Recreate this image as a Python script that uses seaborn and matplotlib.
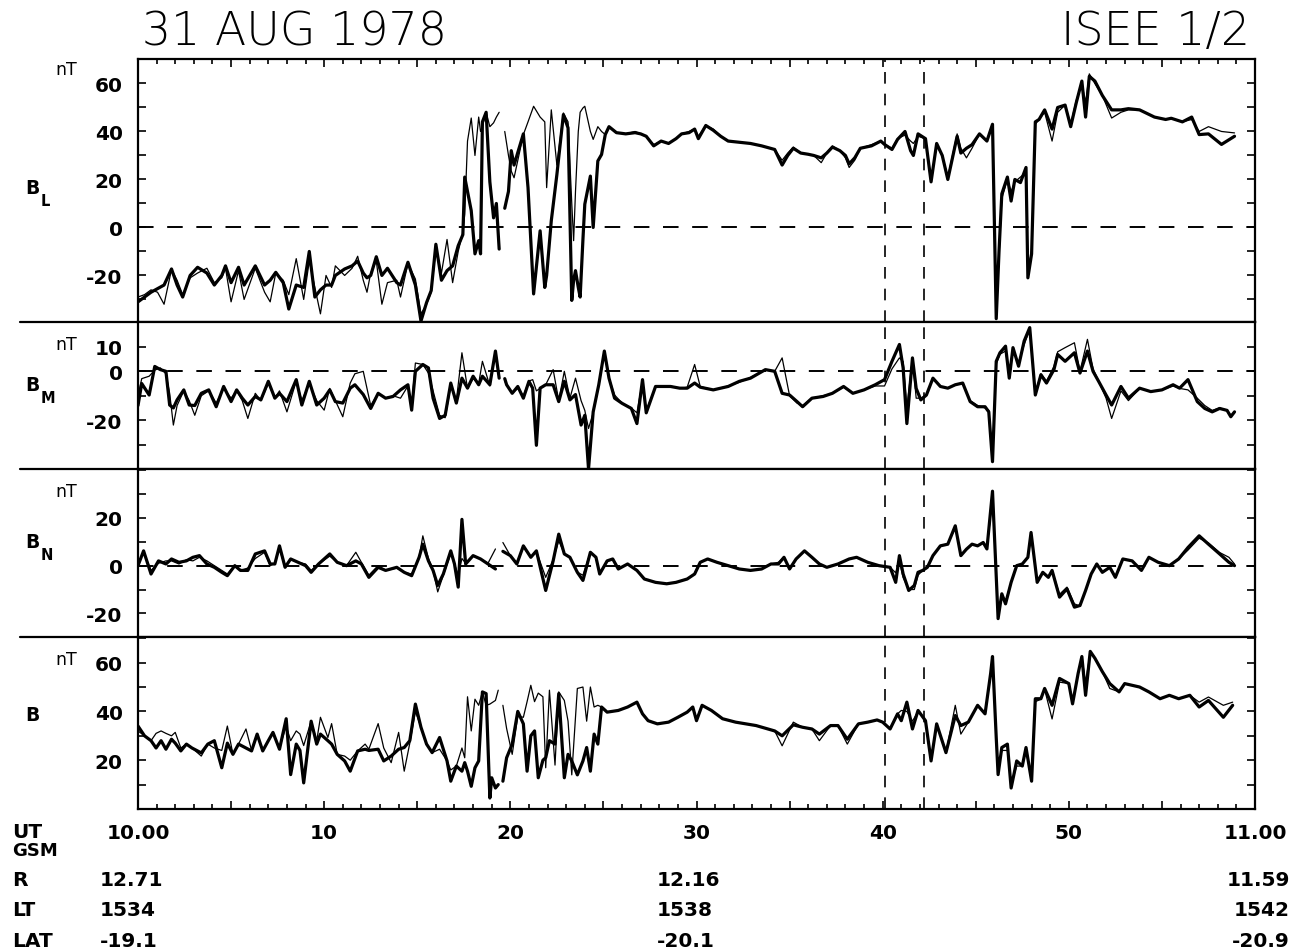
import numpy as np
import pandas as pd
import matplotlib
matplotlib.use("Agg")
import matplotlib.pyplot as plt
from matplotlib.lines import Line2D
from matplotlib.ticker import MultipleLocator, FuncFormatter
import seaborn as sns

nan = float("nan")

# ---------------- field components, minutes after 10:00 UT ----------------
# B_L
bl_t = [0.0, 0.35, 0.7, 1.05, 1.4, 1.8, 2.1, 2.4, 2.8, 3.2, 3.7, 4.1, 4.5, 4.7, 5.0, 5.4, 5.7, 6.3,
        6.8, 7.1, 7.4, 7.8, 8.1, 8.5, 8.9, 9.2, 9.5, 9.8, 10.1, 10.4, 10.6, 11.1, 11.5, 11.8, 12.1,
        12.3, 12.5, 12.8, 13.1, 13.4, 13.9, 14.1, 14.5, 14.9, 15.2, 15.5, 15.75, 16.0, 16.3, 16.6,
        16.9, 17.2, 17.45, 17.55, 17.7, 17.9, 18.1, 18.3, 18.4, 18.5, 18.7, 18.9, 19.1, 19.25, 19.4,
        19.55, 19.7, 19.9, 20.05, 20.2, 20.7, 20.95, 21.25, 21.6, 21.85, 21.95, 22.2, 22.5, 22.85,
        23.1, 23.3, 23.4, 23.5, 23.65, 23.75, 23.9, 24.0, 24.3, 24.45, 24.7, 24.9, 25.1, 25.3, 25.7,
        26.2, 26.7, 27.0, 27.3, 27.7, 28.1, 28.5, 28.9, 29.2, 29.6, 29.9, 30.1, 30.5, 30.9, 31.3,
        31.7, 32.3, 32.9, 33.5, 34.2, 34.6, 34.9, 35.2, 35.6, 36.0, 36.3, 36.7, 37.0, 37.3, 37.7,
        38.0, 38.2, 38.5, 38.8, 39.4, 39.9, 40.1, 40.5, 40.8, 41.2, 41.5, 41.65, 41.9, 42.3, 42.6,
        42.9, 43.2, 43.5, 44.0, 44.2, 44.5, 44.8, 45.2, 45.6, 45.9, 46.1, 46.25, 46.4, 46.7, 46.9,
        47.1, 47.4, 47.7, 47.8, 48.0, 48.2, 48.4, 48.7, 49.1, 49.4, 49.8, 50.1, 50.4, 50.7, 50.9,
        51.1, 51.4, 51.8, 52.3, 52.8, 53.2, 53.8, 54.6, 55.2, 55.5, 56.1, 56.6, 57.0, 57.5, 58.2, 58.9]
bl_isee1 = [-31, -29, -27, -25.5, -24, -17.3, -24, -29, -20, -16.6, -19, -24, -20, -16, -23, -16.6, -24, -16,
            -24, -22, -18.7, -23, -34, -24, -25, -10, -29, -26, -24, -24, -20, -17.3, -16, -14, -19,
            -21, -20, -12.2, -20, -17, -23, -24, -14.5, -24, -39, -31.3, -26.3, -7, -22, -18,
            -16, -7.6, -3, 21, 15, 7, -11, -5.5, -11, 44, 48, 19, 4, 10, -9,
            nan, 8, 15, 32, 26, 39, 16.6, -27.7, -1.4, -25, -20, 2.8, 22, 47,
            41.5, -30.4, -22, -18, -25, -29, -5, 9.7, 21.4, 0, 27.7, 30.4, 38.7, 42, 39.5,
            39, 39.5, 39, 38, 34, 36, 35, 37, 39, 39.5, 41, 37, 42.5, 40.5, 38,
            36, 35.5, 35, 34, 32.5, 26, 30, 33, 31, 30.5, 30, 29, 31, 33.5, 32,
            30, 26.5, 29, 33, 34, 36, 34.6, 32.5, 36.7, 40, 32, 30, 39, 37, 19,
            35, 30, 20, 38, 31, 33, 34.5, 39, 36, 43, -38, -10, 14, 21, 11,
            20, 18.7, 25, -21, -11, 44, 45, 49, 41, 50, 51, 42, 52, 61, 46,
            63, 61, 55, 49, 49, 49.5, 49, 46, 45, 45.5, 44, 46, 38.7, 39, 34.6, 38]
bl_isee2 = [-29, -28, -26, -27, -32, -17.5, -22, -28, -21, -19, -17, -23, -21, -17, -31, -18, -30, -17,
            -27, -31, -19, -22, -28, -13, -30, -14, -25, -36, -20, -25, -16, -20, -17, -12, -22,
            -27, -19, -14, -32, -23, -22, -29, -15, -21.5, -36, -32, -27, -9, -19, -5,
            -23, -10, -2, 5.5, 36, 45.6, 30, 46, 40, 42, 48, 42, 43.6, 46, 48,
            nan, 40, 30, 23.5, 20.7, 38.7, 44, 50.5, 46, 44, 16.6, 49, 26, 47.7,
            44, 10, -5.5, 15, 40, 48, 49.8, 50.5, 40, 36.7, 42, 40, 38.7, 42, 39.5,
            39, 40, 39, 38, 34.5, 36, 35, 37, 39, 40, 41, 38, 42.5, 41, 38,
            36, 35.5, 35, 34, 32.5, 28, 31, 33.5, 31, 30.5, 30, 27, 31, 34, 32,
            29, 25, 28, 33, 34.5, 36, 34.6, 33, 37, 38.5, 36, 35, 38, 37, 20,
            34, 30, 21, 39, 33, 29, 33, 39, 36, 43, -36, -12, 12, 20, 15,
            19, 21, 23, -18, -10, 43, 45, 48, 36, 48, 51, 43, 53, 60, 52,
            64, 60, 55, 45.6, 48, 49, 49, 46, 45, 45.5, 44, 45, 40, 42, 40, 39.4]

# B_M
bm_t = [0.0, 0.2, 0.6, 0.9, 1.2, 1.5, 1.7, 1.9, 2.1, 2.46, 2.75, 3.05, 3.4, 3.8, 4.2, 4.6, 5.0, 5.3,
        5.6, 5.9, 6.3, 6.6, 7.0, 7.35, 7.6, 8.0, 8.5, 8.8, 9.2, 9.6, 10.0, 10.3, 10.6, 11.0, 11.4,
        11.65, 12.1, 12.5, 12.9, 13.3, 13.7, 14.1, 14.5, 14.7, 14.9, 15.3, 15.6, 15.85, 16.2, 16.5,
        16.8, 17.1, 17.4, 17.7, 18.0, 18.3, 18.5, 18.9, 19.2, 19.4, 19.55, 19.7, 19.8, 20.1, 20.4,
        20.7, 21.0, 21.2, 21.4, 21.6, 21.9, 22.3, 22.6, 22.9, 23.2, 23.5, 23.8, 24.0, 24.2, 24.45,
        24.75, 25.05, 25.3, 25.6, 26.0, 26.5, 26.8, 27.1, 27.3, 27.8, 28.6, 29.1, 29.5, 29.9, 30.2,
        30.9, 31.7, 32.3, 32.9, 33.7, 34.2, 34.6, 35.0, 35.4, 35.7, 36.2, 36.8, 37.3, 37.9, 38.4,
        39.0, 39.6, 40.1, 40.5, 40.9, 41.1, 41.3, 41.6, 41.8, 42.05, 42.35, 42.7, 43.1, 43.5, 43.9,
        44.3, 44.7, 45.1, 45.5, 45.7, 45.9, 46.1, 46.3, 46.6, 46.8, 47.0, 47.3, 47.6, 47.9, 48.2,
        48.5, 48.8, 49.2, 49.4, 49.8, 50.3, 50.6, 51.0, 51.3, 51.6, 52.0, 52.3, 52.8, 53.2, 53.8,
        54.4, 55.0, 55.6, 55.95, 56.4, 56.9, 57.3, 57.7, 58.1, 58.5, 58.7, 58.9]
bm_isee1 = [-14, -5, -9.7, 2, 0.7, 0, -13.8, -15, -11.7, -7.6, -13.8, -14, -9, -7.6, -14.5, -6.2, -12.4, -7.6,
            -11, -13.8, -10.3, -11.7, -4.1, -11, -9, -12.4, -3.4, -13.8, -4.1, -13.8, -11, -7.6, -12.4, -13, -6.9,
            -5.5, -9.5, -15.2, -9, -11, -10.3, -7.6, -5.5, -15.9, 0, 2.8, 1.4, -11, -19.3, -18,
            -4.8, -13, -2.8, -6.9, -2, -5.5, -2, -5.5, 8.3, -2.8, nan, -3, -5.5, -9, -6.2,
            -11, -4.1, -6.9, -30.3, -6.9, -5.5, -5.5, -12.4, -4.1, -11.7, -9.5, -22, -18, -40, -16.6,
            -5.5, 8.3, -2.8, -11, -13.1, -15.2, -21.4, -3.4, -17, -6.2, -6.2, -6.9, -6.9, -4.8, -6.5,
            -7.6, -6.2, -4.1, -2.8, 0.7, 0, -9, -9.7, -12.4, -14.5, -11, -10.3, -9, -6.2, -9,
            -7.6, -5.5, -3.4, 4.1, 11, 1.4, -21.4, 5.5, -7, -11.7, -9.7, -2.8, -6.2, -6.9, -5.5,
            -4.8, -12.4, -14.5, -14.5, -16.6, -37, 4.1, 7.6, 10.3, -2.8, 9.7, 2.1, 12.4, 17.9, -9.7,
            -1.4, -4.8, 0.7, 6.9, 4.1, 7.6, -0.7, 8.3, 0, -4.1, -9.7, -13.8, -6.2, -11, -6.9,
            -8.3, -7.6, -5.5, -6.9, -3.4, -12.4, -15.2, -16.6, -15.2, -16, -18.6, -16.6]
bm_isee2 = [-10, -3, -2, 0.5, 1.4, -1, -9, -22, -14, -8, -12, -18, -10, -8, -13, -7, -11, -8,
            -12, -19.3, -9, -12, -5, -11, -8, -16.6, -4, -12, -5, -12, -15.9, -7, -12, -18.6, -4.8,
            -1, 0, -14, -9, -11, -10, -11, -6, -14, 3.4, 2.8, -0.7, -8, -18, -19,
            -6, -12, 7.6, -7, -3, -5, 4.1, -6, 8, -2, nan, -4, -5.5, -9, -7,
            -10, -4, -3.4, -8, -7, -5.5, 0.7, -12, 0, -11, -2.8, -12, -16, -23.4, -17,
            -6, 7.6, -2.8, -9.7, -13, -15, -17, -4, -16, -6.5, -6, -7, -6.5, 2.8, -6.2,
            -7.6, -6, -4.5, -2.5, 0.5, 0, 5.5, -10, -13, -14, -11, -10, -9, -6.5, -9,
            -7.6, -6, -6, 1, 5.5, 4, -15, 5.5, -11, -11, -9.7, -2.8, -6.2, -6.9, -5.5,
            -5, -12, -14, -15, -16, -35, 3, 7, 8.3, -1, 9, 3, 11, 17, -9,
            -1, -4, 2, 8, 9.7, 11.7, 0, 13.1, 1, -4, -11, -19.3, -8, -12, -7,
            -8.3, -7.6, -6, -7, -7.6, -11, -14, -16, -15, -16, -18, -16.6]

# B_N
bn_t = [0.0, 0.3, 0.7, 1.1, 1.5, 1.8, 2.2, 2.6, 2.95, 3.3, 3.7, 4.1, 4.5, 4.8, 5.2, 5.5, 5.9, 6.3,
        6.8, 7.1, 7.35, 7.6, 7.9, 8.2, 8.6, 9.0, 9.3, 9.7, 10.3, 10.7, 11.2, 11.7, 12.0, 12.4, 12.9,
        13.3, 13.9, 14.3, 14.7, 15.1, 15.3, 15.6, 15.85, 16.1, 16.4, 16.8, 17.0, 17.2, 17.4, 17.6,
        18.0, 18.4, 18.8, 19.2, 19.45, 19.6, 20.0, 20.35, 20.7, 21.1, 21.4, 21.9, 22.3, 22.6, 22.9,
        23.2, 23.6, 23.9, 24.3, 24.6, 24.8, 25.2, 25.5, 25.8, 26.3, 26.8, 27.2, 27.8, 28.4, 28.9,
        29.5, 29.9, 30.2, 30.6, 31.1, 31.7, 32.3, 32.9, 33.5, 34.0, 34.4, 34.7, 35.0, 35.35, 35.8,
        36.2, 36.6, 37.0, 37.6, 38.2, 38.6, 39.2, 39.8, 40.4, 40.7, 40.9, 41.1, 41.4, 41.7, 41.9,
        42.15, 42.4, 42.7, 43.1, 43.5, 43.9, 44.2, 44.5, 44.8, 45.1, 45.4, 45.6, 45.9, 46.2, 46.4,
        46.6, 46.9, 47.2, 47.5, 47.8, 47.97, 48.3, 48.6, 48.9, 49.1, 49.5, 49.9, 50.3, 50.6, 50.9,
        51.2, 51.5, 51.8, 52.2, 52.5, 52.9, 53.4, 53.9, 54.3, 54.8, 55.4, 55.9, 56.4, 57.0, 57.5,
        58.1, 58.6, 58.9]
bn_isee1 = [0, 6.2, -3.5, 2, 0.7, 2.8, 1.4, 2, 3.5, 4.2, 0.7, -0.7, -2.8, -4.2, 0, -2, -2, 4.9,
            6.2, 0.7, 0.7, 8.3, -0.7, 2.8, 1.4, 0, -2.8, 0.7, 4.9, 1.4, 0, 2, 0.7, -4.9, -0.7,
            -2, -0.7, -2.8, -4.2, 3.5, 9, 2, -2, -8.3, -3.5, 6.2, 0.7, -9, 19.4, 0.7,
            4.2, 2.8, 0.7, -1.4, nan, 6, 4.2, 0.7, 8.3, 3.5, 6.2, -10.4, 2, 13.2, 4.9,
            3.5, -2.8, -6.2, 5.6, 3.5, -3.5, 2, 2.8, -1.4, 0.7, -2, -5.6, -7, -7.6, -7,
            -5.6, -3.5, 1.4, 2.8, 1.4, 0, -1.4, -2, -1.4, 0.7, 0.7, 3.5, -1.4, 2.8, 6.2,
            3.5, 0.7, -0.7, 0.7, 2.8, 3.5, 1.4, 0, -0.7, -7, 4.2, -3.5, -10.4, -8.3, -2.8,
            -2, -0.7, 4.2, 8.3, 9, 16.7, 4.2, 6.9, 9, 8.3, 9.7, 7, 31.2, -22.2, -11.8,
            -16, -7, 0, 0.7, 3.5, 13.9, -7, -2.8, -4.9, -2, -13.2, -9.7, -17.4, -16.7, -10.4,
            -3.5, 0.7, -2.8, -0.7, -4.9, 2.8, 2, -2, 3.5, 1.4, 0, 2.8, 7.6, 12.5, 9,
            4.9, 1.4, 0]
bn_isee2 = [1, 5.6, -2, 1, 2, 2, 0.7, 2.5, 2, 3.5, 2, 0, -2, -3.5, 0, -2, -1, 3,
            5.6, 0, 1, 7, -0.7, 2.8, 1.4, 0.7, -2, 0.7, 4, 1.4, 0, 5.6, 1.4, -4, 0,
            -2, -1, -2.8, -3.5, 3.5, 12.5, 3, -2, -11, -4, 5, 0.7, -4, 3, 1,
            4.2, 2.8, 1, 7, nan, 9.7, 4.2, 1, 8, 3.5, 6, -4.9, 2.5, 10.4, 5,
            3.5, -2.8, -4, 5.6, 3.5, -3.5, 2, 2.8, -1.4, 0.7, -2, -5.6, -7, -7.6, -7,
            -5.6, -3.5, 1.4, 2.8, 1.4, 0, -1.4, -2, -1.4, 0.7, 1.4, 3.5, -1.4, 2.8, 6.2,
            3.5, 0.7, -0.7, 0.7, 2.8, 3.5, 1.4, 0, -0.7, -3, 2, -5, -10, -10, -4,
            -2, -0.7, 4.2, 8.3, 9, 16, 4.2, 6.9, 9, 8.3, 9.7, 7, 28, -20, -12,
            -15, -7, 0, 0.7, 3.5, 12, -6, -2.8, -4.9, -2, -12, -9, -16, -17, -10.4,
            -3.5, 0.7, -2.8, -0.7, -4.9, 2.8, 2, -2, 3.5, 1.4, 0, 2.8, 6.5, 11.5, 9.5,
            5.5, 3.5, 0.7]

# |B|
bt_t = [0.0, 0.35, 0.7, 0.97, 1.24, 1.5, 1.8, 2.0, 2.3, 2.6, 2.9, 3.4, 3.75, 4.1, 4.5, 4.8, 5.1, 5.4,
        5.8, 6.1, 6.4, 6.7, 7.0, 7.25, 7.6, 7.96, 8.2, 8.5, 8.7, 8.9, 9.3, 9.6, 9.8, 10.2, 10.4,
        10.7, 11.1, 11.4, 11.8, 12.2, 12.4, 12.9, 13.2, 13.6, 14.0, 14.3, 14.6, 14.9, 15.2, 15.5,
        15.8, 16.2, 16.6, 16.8, 17.1, 17.4, 17.55, 17.7, 17.9, 18.1, 18.3, 18.5, 18.7, 18.9, 19.0,
        19.2, 19.35, 19.45, 19.6, 19.8, 20.1, 20.4, 20.7, 20.9, 21.1, 21.3, 21.5, 21.75, 21.9, 22.1,
        22.4, 22.6, 22.9, 23.1, 23.3, 23.6, 23.9, 24.1, 24.3, 24.5, 24.7, 24.9, 25.2, 25.8, 26.3,
        26.8, 27.1, 27.4, 27.9, 28.5, 29.0, 29.5, 29.8, 30.0, 30.3, 30.8, 31.4, 32.1, 33.2, 34.2,
        34.6, 35.2, 35.7, 36.2, 36.6, 37.2, 37.6, 38.1, 38.7, 39.2, 39.7, 40.0, 40.4, 40.8, 41.0,
        41.3, 41.6, 41.9, 42.3, 42.6, 42.9, 43.4, 43.9, 44.2, 44.6, 45.1, 45.5, 45.8, 45.9, 46.1,
        46.2, 46.4, 46.7, 46.9, 47.2, 47.5, 47.7, 48.0, 48.2, 48.5, 48.7, 49.1, 49.5, 50.0, 50.2,
        50.5, 50.7, 50.9, 51.15, 51.4, 51.8, 52.2, 52.7, 53.0, 53.8, 54.3, 54.9, 55.4, 55.9, 56.5,
        57.0, 57.5, 58.3, 58.8]
bt_isee1 = [34, 30, 28, 25, 28, 24.5, 28.6, 27, 23.8, 26.6, 25, 23, 26.6, 28, 16.9, 27, 22.4, 26.6,
            25, 23.8, 30.7, 23.8, 28, 31.4, 24.5, 37, 14.1, 26.6, 24, 10.7, 36, 26.6, 30.7, 28, 26.6,
            22.4, 19.7, 15.5, 23.8, 24.5, 24, 24.5, 19.7, 21.7, 24.5, 25.2, 28, 43, 33.5, 26.6,
            23.1, 29.3, 19.7, 11.4, 17.6, 15.5, 19, 15.5, 9.3, 16.9, 19.7, 48, 47.3, 4.5, 12.8,
            8.6, 10, nan, 11.4, 21, 26.6, 40, 34.9, 15.5, 30, 32, 12.8, 20, 21, 28,
            26.6, 47.3, 12.8, 22.4, 19.7, 14, 19.7, 25.2, 15.5, 30.7, 26.6, 41.8, 39.7, 40.4, 41.8,
            43.8, 39, 36.2, 34.9, 35.6, 37.6, 39.7, 41.8, 36.2, 42.5, 40.4, 37, 35.6, 34.2, 32,
            30, 34.5, 33.5, 32.8, 30.7, 34.2, 34.2, 28.6, 34.9, 35.6, 36.5, 35.6, 32.8, 39, 36.2,
            43.8, 32.8, 40.4, 36.2, 19.7, 34.9, 23.1, 38.3, 34.2, 35.6, 42.5, 39, 55.6, 62.5, 29.3,
            14.1, 25.2, 26.6, 8.6, 19.7, 17.6, 25.2, 11.4, 45.2, 45.2, 49.4, 42.5, 53.5, 51.4, 43.1,
            55.6, 62.5, 46.6, 64.6, 61.8, 56.3, 51.4, 48, 51.4, 50, 48, 45.2, 46.6, 45.2, 46.6,
            41.8, 44.5, 37.6, 42.5]
bt_isee2 = [32, 30, 28, 31, 32, 31, 30, 31.4, 25, 26.6, 25, 21.7, 26.6, 25, 24, 34, 22.4, 26.6,
            32.8, 24, 30, 24, 28, 31, 25, 34, 28, 32, 30.7, 26, 36, 28, 37.6, 29.3, 35,
            22.4, 21.7, 20, 23.8, 26.6, 24.5, 35, 25, 19, 31.4, 15.5, 27, 40, 33.5, 26.6,
            23.1, 24.5, 19.7, 16, 17.6, 25, 21, 46, 32, 45, 42.5, 48, 42.5, 43, 43.5,
            44.5, 48.7, nan, 42.5, 33, 22.4, 38, 37.6, 44, 50.7, 44, 47.5, 46, 16.9, 48.7,
            18, 48, 44.5, 36, 14, 49.4, 50, 36, 50, 41.8, 42.5, 41.8, 39.7, 40.4, 41.8,
            43.8, 39, 36.2, 35, 35.6, 37.6, 39.7, 41.8, 37, 42.5, 40.4, 37, 35.6, 34.2, 32,
            25.9, 35.6, 33.5, 32.8, 28, 34.2, 34.2, 26.6, 34.9, 35.6, 36.5, 35.6, 32.8, 39, 40.4,
            40, 36, 40, 36.2, 20, 34.9, 23.1, 42.5, 30.7, 35.6, 42.5, 39, 55.6, 60, 30,
            16, 24, 24, 10, 17.6, 17.6, 24, 12, 44, 45, 49, 36.9, 52, 51.4, 44,
            55.6, 62, 52, 64, 61.8, 56.3, 49.4, 48, 51.4, 50, 48, 45.2, 46.6, 45.2, 46.6,
            43.8, 45.9, 42.5, 43.8]

# axis annotation
ut_ticks = [0, 10, 20, 30, 40, 50, 60]
ut_labels = ["10.00", "10", "20", "30", "40", "50", "11.00"]
interval_marks = [40.15, 42.2]
orbit_rows = ["R", "LT", "LAT"]
orbit_vals = [["12.71", "12.16", "11.59"],
              ["1534", "1538", "1542"],
              ["-19.1", "-20.1", "-20.9"]]

# ---------------- figure ----------------
sns.set_theme(style="white")
plt.rcParams["font.family"] = ["DejaVu Sans"]
plt.rcParams["axes.linewidth"] = 1.5
plt.rcParams["text.color"] = "black"
plt.rcParams["xtick.color"] = "black"
plt.rcParams["ytick.color"] = "black"

W, H = 1293, 953
fig = plt.figure(figsize=(W / 100, H / 100), dpi=100)
fig.patch.set_facecolor("white")
L, R = 138, 1255


def px_axes(top, bottom):
    return fig.add_axes([L / W, 1 - bottom / H, (R - L) / W, (bottom - top) / H])


def long_frame(t, v):
    v = np.asarray(v, float)
    seg = np.cumsum(np.isnan(v))
    df = pd.DataFrame({"UT": t, "nT": v, "seg": seg})
    return df.dropna()


panels = [
    # name, subscript, top, bottom, ylim, tick labels, t, isee1, isee2, zero line
    ("B", "L", 60, 323, (-39.4, 70.2), [60, 40, 20, 0, -20], bl_t, bl_isee1, bl_isee2, True),
    ("B", "M", 323, 470, (-40, 20.2), [10, 0, -20], bm_t, bm_isee1, bm_isee2, True),
    ("B", "N", 470, 638, (-29.9, 40.5), [20, 0, -20], bn_t, bn_isee1, bn_isee2, True),
    ("B", "", 638, 810, (0, 70.5), [60, 40, 20], bt_t, bt_isee1, bt_isee2, False),
]
unit_y = [70, 345, 492, 660]
name_y = [188, 386, 543, 716]

bold = dict(fontweight="bold", color="black")
axes = []
for i, (name, sub, top, bottom, ylim, labs, t, v1, v2, zero) in enumerate(panels):
    ax = px_axes(top, bottom)
    axes.append(ax)
    ax.set_facecolor("white")
    d2 = long_frame(t, v2)
    d1 = long_frame(t, v1)
    sns.lineplot(data=d2, x="UT", y="nT", units="seg", estimator=None, sort=False,
                 color="black", lw=0.9, legend=False, ax=ax)
    sns.lineplot(data=d1, x="UT", y="nT", units="seg", estimator=None, sort=False,
                 color="black", lw=2.3, legend=False, ax=ax)
    if zero:
        ax.axhline(0, color="black", lw=1.4, ls=(0, (8, 7)), zorder=1)
    for m in interval_marks:
        ax.axvline(m, color="black", lw=1.2, ls=(0, (7, 6)), zorder=1)
    ax.set_xlim(0, 60)
    ax.set_ylim(*ylim)
    ax.set_xlabel("")
    ax.set_ylabel("")
    for s in ax.spines.values():
        s.set_color("black")
        s.set_linewidth(1.6)

    ax.yaxis.set_major_locator(MultipleLocator(10))
    ax.yaxis.set_major_formatter(FuncFormatter(
        lambda v, p, labs=labs: f"{int(round(v))}" if int(round(v)) in labs else ""))
    ax.tick_params(axis="y", which="both", direction="in", left=True, right=True,
                   length=5.5, width=1.2, color="black", labelcolor="black",
                   pad=11, labelsize=14.5)
    for lab in ax.get_yticklabels():
        lab.set_fontweight("bold")

    ax.xaxis.set_major_locator(MultipleLocator(5))
    ax.xaxis.set_minor_locator(MultipleLocator(1))
    if i == 0:
        ax.tick_params(axis="x", which="both", direction="in", top=True, bottom=False,
                       labeltop=False, labelbottom=False, color="black", width=1.2)
        ax.tick_params(axis="x", which="major", length=6)
        ax.tick_params(axis="x", which="minor", length=3.5)
    elif i == 3:
        ax.set_xticks(ut_ticks + [5, 15, 25, 35, 45, 55])
        ax.xaxis.set_major_formatter(FuncFormatter(
            lambda v, p: ut_labels[ut_ticks.index(int(round(v)))] if int(round(v)) in ut_ticks else ""))
        ax.tick_params(axis="x", which="both", direction="in", top=False, bottom=True,
                       labelbottom=True, color="black", labelcolor="black", width=1.2,
                       pad=10, labelsize=14.5)
        ax.tick_params(axis="x", which="major", length=6)
        ax.tick_params(axis="x", which="minor", length=3.5)
        for lab in ax.get_xticklabels():
            lab.set_fontweight("bold")
    else:
        ax.tick_params(axis="x", which="both", top=False, bottom=False,
                       labelbottom=False, labeltop=False)

    # unit and component labels at the left margin
    fig.text(55 / W, 1 - unit_y[i] / H, "nT", fontsize=12.5, ha="left", va="center",
             color="black")
    fig.text(25 / W, 1 - name_y[i] / H, name, fontsize=13.5, ha="left", va="center", **bold)
    if sub:
        fig.text(41 / W, 1 - (name_y[i] + 13) / H, sub, fontsize=10.5, ha="left",
                 va="center", **bold)

# separators between panels continue into the left margin
for y in (323, 470, 638):
    fig.add_artist(Line2D([20 / W, L / W], [1 - y / H, 1 - y / H], color="black", lw=1.6))

# titles
fig.text(142 / W, 1 - 32 / H, "31 AUG 1978", fontsize=33, fontweight="light",
         ha="left", va="center", color="black")
fig.text(1250 / W, 1 - 32 / H, "ISEE 1/2", fontsize=33, fontweight="light",
         ha="right", va="center", color="black")

# orbit information under the time axis
fig.text(12 / W, 1 - 832 / H, "UT", fontsize=14.5, ha="left", va="center", **bold)
fig.text(12 / W, 1 - 851 / H, "GSM", fontsize=13, ha="left", va="center", **bold)
row_y = [881, 911, 942]
col_x = [(100, "left"), (657, "left"), (1290, "right")]
for r, (row, y) in enumerate(zip(orbit_rows, row_y)):
    fig.text(12 / W, 1 - y / H, row, fontsize=14.5, ha="left", va="center", **bold)
    for c, (xp, ha) in enumerate(col_x):
        fig.text(xp / W, 1 - y / H, orbit_vals[r][c], fontsize=14.5, ha=ha, va="center", **bold)

fig.savefig("out.png", dpi=100, facecolor="white")
